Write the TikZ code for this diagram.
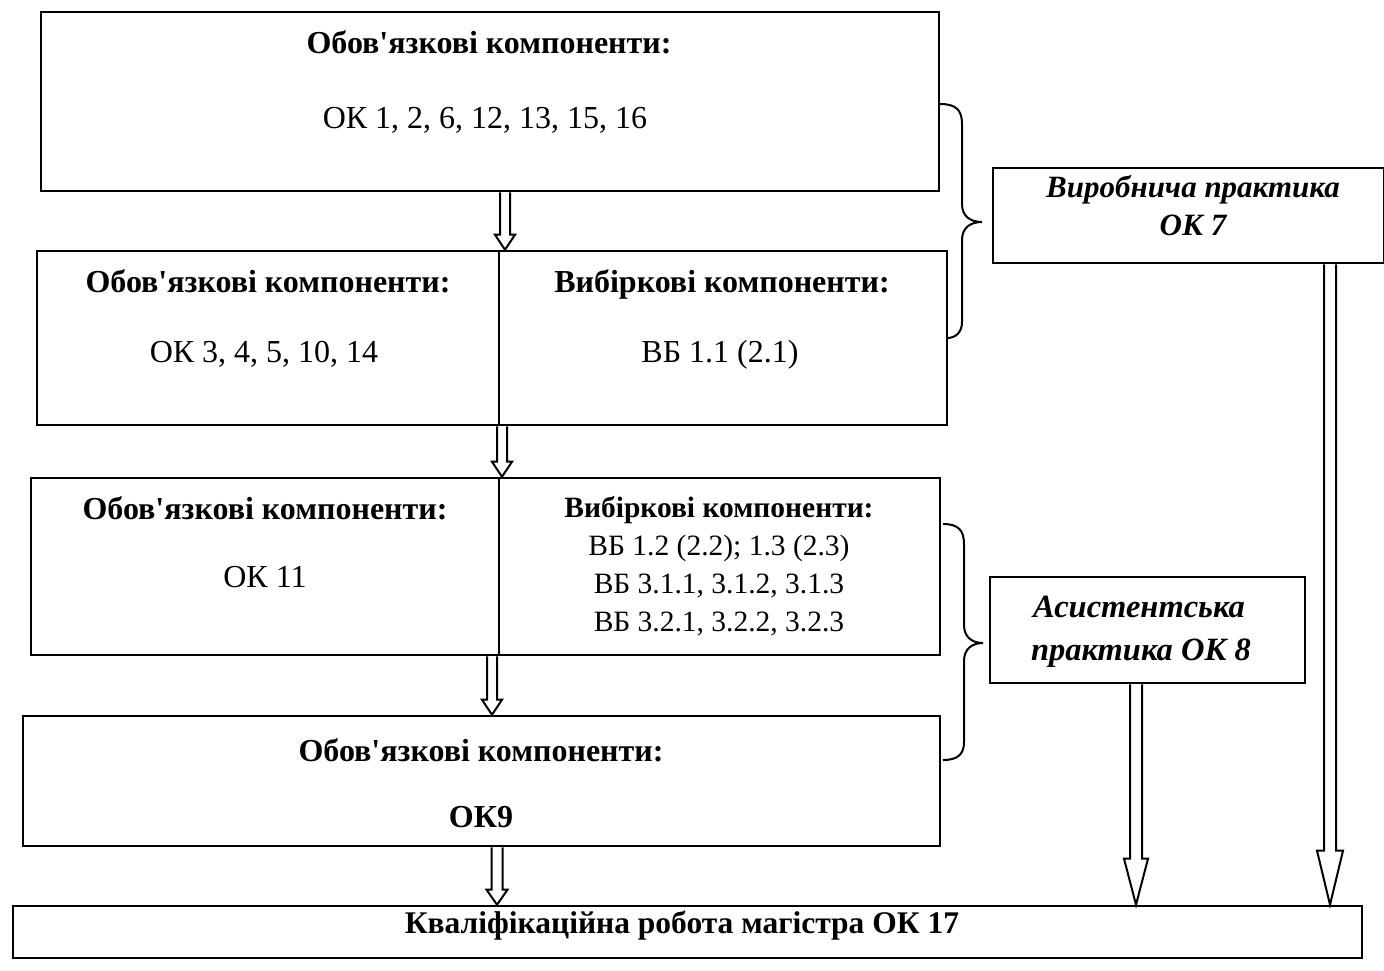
\documentclass[tikz,border=0pt]{standalone}
\usepackage{fontspec}
\setmainfont{Liberation Serif}[Ligatures=TeXOff]
\usetikzlibrary{calc}
\newcommand\hollowarrow[5]{% start, end, shaft half, head half, head length
  \draw[arrowline] let \p1=(#1), \p2=(#2) in
    (\x1-#3pt,\y1) -- (\x1-#3pt,\y2+#5pt) -- (\x1-#4pt,\y2+#5pt) -- (\x1,\y2)
    -- (\x1+#4pt,\y2+#5pt) -- (\x1+#3pt,\y2+#5pt) -- (\x1+#3pt,\y1);}
\begin{document}
\begin{tikzpicture}[x=1pt,y=-1pt,
  box/.style={draw, line width=2.6pt, inner sep=0pt},
  txt/.style={font=\fontsize{32}{36}\selectfont, inner sep=0pt, anchor=base},
  btxt/.style={txt, font=\fontsize{32}{36}\selectfont\bfseries},
  stxt/.style={txt, font=\fontsize{29.5}{33}\selectfont},
  sbtxt/.style={txt, font=\fontsize{29.5}{33}\selectfont\bfseries},
  itxt/.style={txt, font=\fontsize{31}{35}\selectfont\bfseries\itshape},
  iitxt/.style={txt, font=\fontsize{32.5}{36}\selectfont\bfseries\itshape},
  arrowline/.style={draw, fill=white, line width=2pt, line join=miter},
  bracestyle/.style={draw, line width=2pt}]
\useasboundingbox (0,0) rectangle (1384,970);
% boxes
\node[box, minimum width=898pt, minimum height=179pt] (b1) at (490,101.5) {};
\node[box, minimum width=462pt, minimum height=174pt] (b2L) at (268,338) {};
\node[box, minimum width=448pt, minimum height=174pt] (b2R) at (723,338) {};
\node[box, minimum width=468pt, minimum height=177pt] (b3L) at (265,566.5) {};
\node[box, minimum width=441pt, minimum height=177pt] (b3R) at (719.5,566.5) {};
\node[box, minimum width=917pt, minimum height=130pt] (b4) at (481.5,781) {};
\node[box, minimum width=1349pt, minimum height=52pt] (b5) at (687.5,932) {};
\node[box, minimum width=391pt, minimum height=95pt] (p7) at (1188.5,215.5) {};
\node[box, minimum width=315pt, minimum height=106pt] (p8) at (1147.5,630) {};
% texts
\node[btxt] (t1a) at (489,53) {Обов'язкові компоненти:};
\node[txt]  (t1b) at (485,128) {ОК 1, 2, 6, 12, 13, 15, 16};
\node[btxt] (t2a) at (268,292) {Обов'язкові компоненти:};
\node[txt]  (t2b) at (264,362) {ОК 3, 4, 5, 10, 14};
\node[btxt] (t2c) at (722,292) {Вибіркові компоненти:};
\node[txt]  (t2d) at (720,362) {ВБ 1.1 (2.1)};
\node[btxt] (t3a) at (265,519) {Обов'язкові компоненти:};
\node[txt]  (t3b) at (265,587) {ОК 11};
\node[sbtxt] (t3c) at (719,517) {Вибіркові компоненти:};
\node[stxt]  (t3d) at (719,555) {ВБ 1.2 (2.2); 1.3 (2.3)};
\node[stxt]  (t3e) at (719,593) {ВБ 3.1.1, 3.1.2, 3.1.3};
\node[stxt]  (t3f) at (719,631) {ВБ 3.2.1, 3.2.2, 3.2.3};
\node[btxt] (t4a) at (481,761) {Обов'язкові компоненти:};
\node[btxt] (t4b) at (481,827) {ОК9};
\node[btxt, font=\fontsize{31.5}{35}\selectfont\bfseries] (t5) at (682,933) {Кваліфікаційна робота магістра ОК 17};
\node[itxt] (t7a) at (1193,197) {Виробнича практика};
\node[itxt] (t7b) at (1193,235) {ОК 7};
\node[iitxt] (t8a) at (1139,617) {Асистентська};
\node[iitxt] (t8b) at (1141,660) {практика ОК 8};
% arrow axes
\coordinate (x1) at (505,0);
\coordinate (x2) at (502,0);
\coordinate (x3) at (492,0);
\coordinate (x4) at (497,0);
\coordinate (x7) at (1330,0);
\coordinate (x8) at (1136,0);
\hollowarrow{x1 |- b1.south}{x1 |- b2L.north}{5}{10}{15}
\hollowarrow{x2 |- b2L.south}{x2 |- b3L.north}{5}{10}{15}
\hollowarrow{x3 |- b3L.south}{x3 |- b4.north}{5}{10}{15}
\hollowarrow{x4 |- b4.south}{x4 |- b5.north}{5.5}{10.5}{15}
\hollowarrow{x7 |- p7.south}{x7 |- b5.north}{6}{13}{54}
\hollowarrow{x8 |- p8.south}{x8 |- b5.north}{6}{12}{46}
% braces
\coordinate (br1top) at (940,104);
\coordinate (br1tip) at (982,222);
\coordinate (br1bot) at (947,338);
\draw[bracestyle] (br1top) .. controls (956,104) and (962,110) .. (962,124)
  -- (962,204) .. controls (962,216) and (970,222) .. (br1tip)
  .. controls (970,222) and (962,228) .. (962,240)
  -- (962,322) .. controls (962,332) and (956,338) .. (br1bot);
\coordinate (br2top) at (943,524);
\coordinate (br2tip) at (983,643);
\coordinate (br2bot) at (943,760);
\draw[bracestyle] (br2top) .. controls (958,524) and (964,530) .. (964,544)
  -- (964,625) .. controls (964,637) and (972,643) .. (br2tip)
  .. controls (972,643) and (964,649) .. (964,661)
  -- (964,742) .. controls (964,754) and (958,760) .. (br2bot);
\end{tikzpicture}
\end{document}
